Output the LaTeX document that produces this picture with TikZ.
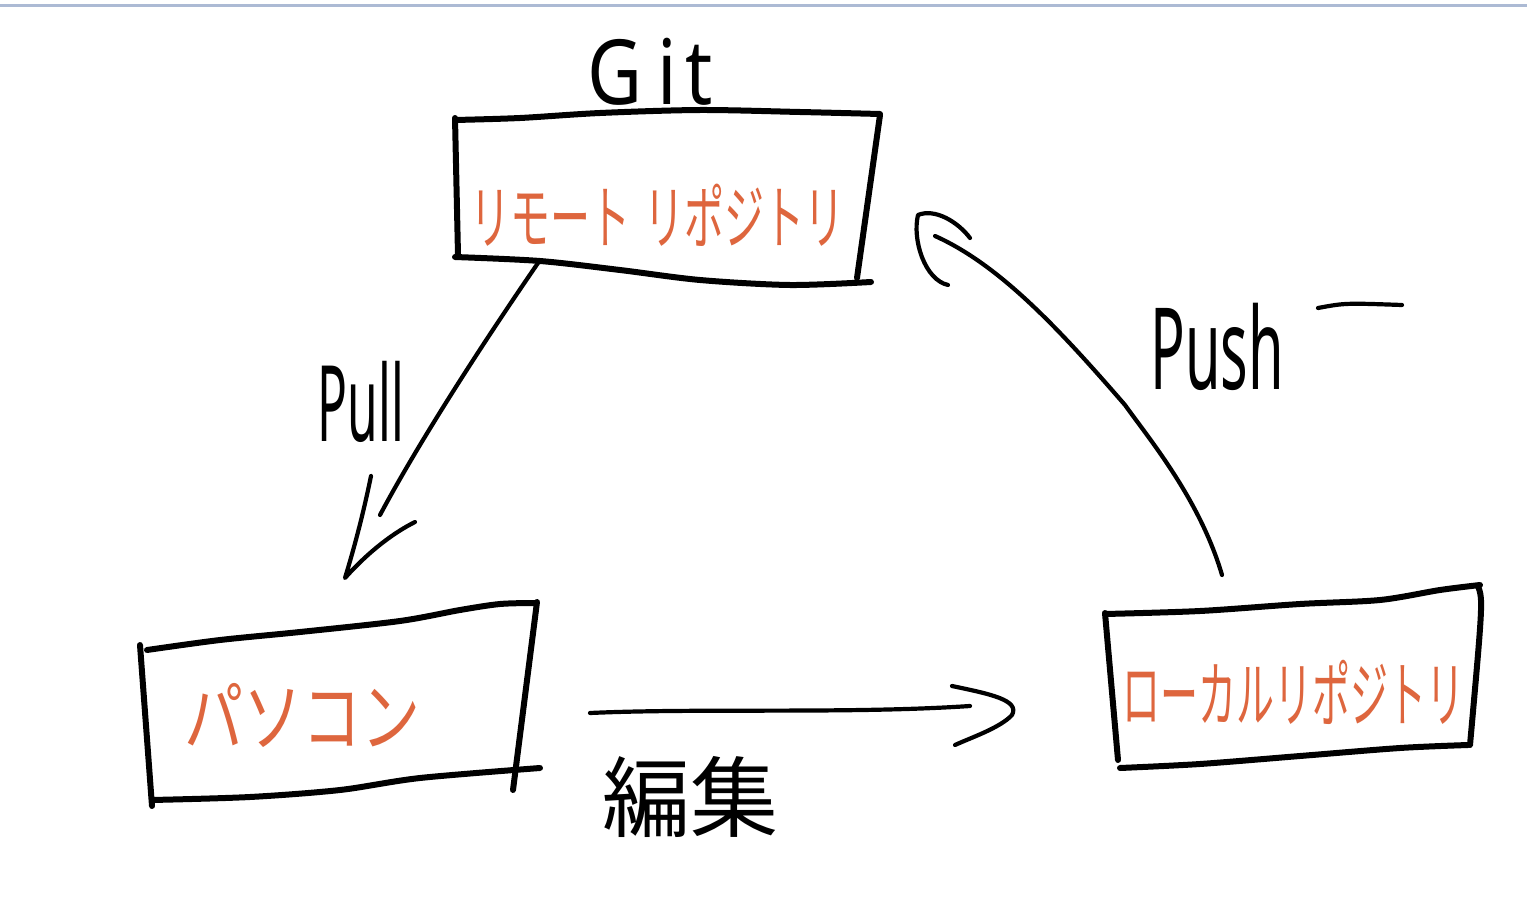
\documentclass[tikz,border=0pt]{standalone}
\usepackage{fontspec}
\newfontfamily\jp{Noto Sans CJK JP}
\newfontfamily\lat{Noto Sans}
\definecolor{orng}{RGB}{222,102,62}
\definecolor{topc}{RGB}{172,186,212}
\begin{document}
\begin{tikzpicture}[x=1pt,y=-1pt,line cap=round,line join=round,
  hand/.style={line width=6pt,black},
  arr/.style={line width=4.2pt,black},
  ortxt/.style={text=orng,inner sep=0pt},
  lbl/.style={inner sep=0pt,black}]
\useasboundingbox (0,0) rectangle (1527,907);
\fill[white] (0,0) rectangle (1527,907);
\draw[topc,line width=3pt] (0,6) -- (1527,6);

% remote repository box
\draw[hand] plot[smooth] coordinates {(455,120) (520,118) (600,113) (700,110) (800,112) (880,114)};
\draw[hand] (880,115) -- (857,278);
\draw[hand] (455,118) -- (458,255);
\draw[hand] plot[smooth] coordinates {(455,257) (540,261) (620,270) (700,280) (790,285) (871,282)};
\node[ortxt] (remote) at (657,215) {\scalebox{1}[1.75]{\jp\fontsize{40}{40}\selectfont リモート\hspace{14pt}リポジトリ}};
\node[lbl] (git) at (650,72) {\scalebox{1.05}[1.25]{\lat\fontsize{72}{72}\selectfont G\hspace{14pt}i\hspace{8pt}t}};

% PC box
\draw[hand] plot[smooth] coordinates {(147,650) (220,640) (300,632) (400,621) (460,610) (500,604) (535,603)};
\draw[hand] (537,602) -- (513,790);
\draw[hand] (140,645) -- (152,806);
\draw[hand] plot[smooth] coordinates {(152,800) (250,797) (340,790) (420,778) (540,768)};
\node[ortxt] (pc) at (302,715) {\scalebox{1}[1.3]{\jp\fontsize{59}{59}\selectfont パソコン}};

% local repository box
\draw[hand] plot[smooth] coordinates {(1105,614) (1200,611) (1300,604) (1380,600) (1440,590) (1480,585)};
\draw[hand] (1478,586) .. controls (1483,600) .. (1470,745);
\draw[hand] (1105,613) -- (1118,760);
\draw[hand] plot[smooth] coordinates {(1120,768) (1200,764) (1300,756) (1400,748) (1468,745)};
\node[ortxt] (local) at (1293,692) {\scalebox{1}[1.9]{\jp\fontsize{38}{38}\selectfont ローカルリポジトリ}};

% Pull arrow
\coordinate (pullS) at (538,263);
\coordinate (pullE) at (380,515);
\coordinate (pullT) at (345,578);
\draw[arr] (pullS) .. controls (485,340) and (420,440) .. (pullE);
\draw[arr] (371,476) .. controls (362,520) and (352,555) .. (pullT) .. controls (370,550) and (395,532) .. (415,522);
\node[lbl] (pull) at (361,402) {\scalebox{0.62}[1.32]{\lat\fontsize{80}{80}\selectfont Pull}};

% Push arrow
\coordinate (pushS) at (1222,575);
\coordinate (pushE) at (935,236);
\draw[arr] (pushS) .. controls (1200,500) and (1150,440) .. (1125,405) .. controls (1060,330) and (1000,265) .. (pushE);
\draw[arr] (948,285) .. controls (925,280) and (912,240) .. (918,215) .. controls (935,208) and (958,222) .. (970,238);
\node[lbl] (push) at (1217,347) {\scalebox{0.72}[1.42]{\lat\fontsize{80}{80}\selectfont Push}};
\draw[arr] (1318,308) .. controls (1345,303) .. (1402,305);

% edit arrow
\coordinate (editS) at (590,713);
\coordinate (editE) at (970,706);
\draw[arr] (editS) .. controls (700,708) and (850,714) .. (editE);
\draw[arr] (952,686) .. controls (990,694) and (1020,700) .. (1012,715) .. controls (1000,728) and (970,738) .. (955,745);
\node[lbl] (edit) at (690,797) {\jp\fontsize{88}{88}\selectfont 編集};
\end{tikzpicture}
\end{document}
